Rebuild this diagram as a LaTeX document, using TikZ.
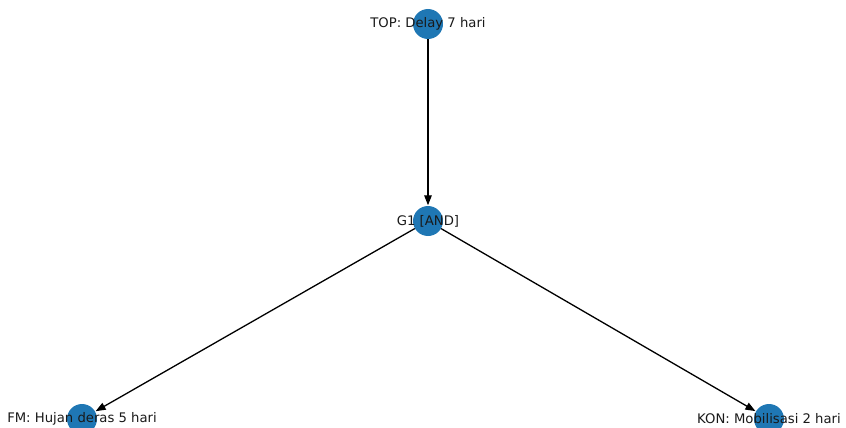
\documentclass[tikz,border=0pt]{standalone}
\usepackage{fontspec}
\setmainfont{DejaVu Sans}
\usetikzlibrary{arrows.meta}
\definecolor{mplblue}{HTML}{1F77B4}
\tikzset{
  dot/.style={circle, fill=mplblue, draw=none, minimum size=30pt, inner sep=0pt},
  lbl/.style={font=\fontsize{13.2pt}{15pt}\selectfont, text=black!90, inner sep=0pt},
  edge/.style={draw=black, line width=1.3pt, -{Triangle[length=10pt,width=7.5pt]}, shorten >=0.5pt}
}
\begin{document}
\begin{tikzpicture}[x=1pt,y=-1pt]
\useasboundingbox (0,0) rectangle (846,428);
\clip (0,0) rectangle (846,428);
\node[dot] (top) at (428,24) {};
\node[dot] (g1) at (428,221) {};
\node[dot] (fm) at (82,419) {};
\node[dot] (kon) at (769,419) {};
\draw[edge] (top) -- (g1);
\draw[edge] (g1) -- (fm);
\draw[edge] (g1) -- (kon);
\node[lbl] (ltop) at (top) {TOP: Delay 7 hari};
\node[lbl] (lg1) at (g1) {G1 [AND]};
\node[lbl] (lfm) at (fm) {FM: Hujan deras 5 hari};
\node[lbl] (lkon) at (kon) {KON: Mobilisasi 2 hari};
\end{tikzpicture}
\end{document}
